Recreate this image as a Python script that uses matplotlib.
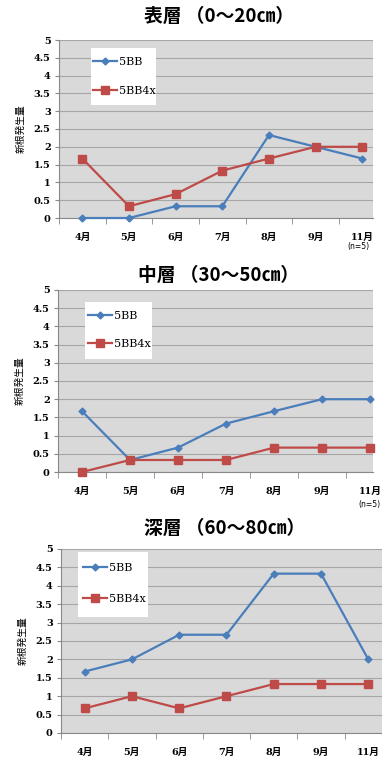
import numpy as np
import matplotlib
matplotlib.use('agg')
import matplotlib.pyplot as plt
from matplotlib.patches import Rectangle

months = ['4月', '5月', '6月', '7月', '8月', '9月', '11月']
titles = ['表層 （0〜20㎝）', '中層 （30〜50㎝）', '深層 （60〜80㎝）']
ylab = '新根発生量'
series_names = ['5BB', '5BB4x']

top_5bb = [0, 0, 0.33, 0.33, 2.33, 2.0, 1.67]
top_5bb4x = [1.67, 0.33, 0.67, 1.33, 1.67, 2.0, 2.0]
mid_5bb = [1.67, 0.33, 0.67, 1.33, 1.67, 2.0, 2.0]
mid_5bb4x = [0, 0.33, 0.33, 0.33, 0.67, 0.67, 0.67]
deep_5bb = [1.67, 2.0, 2.67, 2.67, 4.33, 4.33, 2.0]
deep_5bb4x = [0.67, 1.0, 0.67, 1.0, 1.33, 1.33, 1.33]

W, H = 382, 758
blue = '#4A7EBB'
red = '#BE4B48'
cjk = ['DejaVu Serif', 'Noto Sans CJK JP']
sans = ['Noto Sans CJK JP', 'DejaVu Sans']

# pixel boxes: left, right, top, bottom ; legend white box ; first entry (x, y) ; entry gap
panels = [
    dict(box=(59, 373, 40, 218), xr=6.23, lbox=(91, 48, 156, 105), ent=(93, 63), gap=30,
         title_y=16, n5=(358, 247), d1=top_5bb, d2=top_5bb4x),
    dict(box=(58, 373, 290, 472), xr=6.06, lbox=(85, 302, 152, 359), ent=(88, 317), gap=29,
         title_y=275, n5=(369, 504), d1=mid_5bb, d2=mid_5bb4x),
    dict(box=(61, 382, 549, 733), xr=6.29, lbox=(78, 552, 148, 617), ent=(83, 569), gap=32,
         title_y=528, n5=None, d1=deep_5bb, d2=deep_5bb4x),
]

fig = plt.figure(figsize=(W / 100, H / 100), dpi=100)
fig.patch.set_facecolor('white')

for i, p in enumerate(panels):
    l, r, t, b = p['box']
    ax = fig.add_axes([l / W, 1 - b / H, (r - l) / W, (b - t) / H])
    ax.set_facecolor('#D9D9D9')
    x = np.arange(len(months))
    ax.plot(x, p['d1'], '-D', color=blue, lw=1.6, ms=3.5, label=series_names[0], clip_on=False, zorder=3)
    ax.plot(x, p['d2'], '-s', color=red, lw=1.6, ms=5.8, label=series_names[1], clip_on=False, zorder=3)
    ax.set_yticks(np.arange(0, 5.01, 0.5))
    ax.set_yticklabels(['0', '0.5', '1', '1.5', '2', '2.5', '3', '3.5', '4', '4.5', '5'],
                       family='DejaVu Serif', weight='bold', fontsize=7)
    ax.grid(axis='y', color='#A6A6A6', lw=0.8)
    ax.set_axisbelow(True)
    ax.set_xticks(x)
    ax.set_xticklabels(months, family=cjk, weight='bold', fontsize=7)
    ax.set_xticks(np.arange(-0.5, 7, 1), minor=True)
    ax.set_xlim(-0.5, p['xr'])
    ax.set_ylim(0, 5)
    ax.tick_params(axis='x', which='major', length=0, pad=11)
    ax.tick_params(axis='x', which='minor', length=4, color='#888888', direction='out')
    ax.tick_params(axis='y', length=3, color='#888888', pad=3)
    for s in ['top', 'right']:
        ax.spines[s].set_visible(False)
    for s in ['left', 'bottom']:
        ax.spines[s].set_color('#888888')
        ax.spines[s].set_linewidth(0.8)
    ax.set_ylabel(ylab, family=sans, fontsize=7, labelpad=6)
    fig.text((l + r) / 2 / W + 0.008, 1 - p['title_y'] / H, titles[i],
             family=sans, weight='bold', fontsize=13.5, ha='center', va='center')
    # legend: white box plus entries
    x0, y0, x1, y1 = p['lbox']
    fig.patches.append(Rectangle((x0 / W, 1 - y1 / H), (x1 - x0) / W, (y1 - y0) / H,
                                 transform=fig.transFigure, facecolor='white',
                                 edgecolor='none', zorder=5))
    ex, ey = p['ent']
    fs = 8
    leg = fig.legend(*ax.get_legend_handles_labels(), loc='upper left',
                     bbox_to_anchor=(ex / W, 1 - (ey - 6) / H),
                     bbox_transform=fig.transFigure, frameon=False,
                     prop={'family': 'DejaVu Serif', 'size': fs},
                     labelspacing=(p['gap'] - 11) / 11.1, borderpad=0, handlelength=2.2,
                     handletextpad=0.15, borderaxespad=0)
    leg.set_zorder(6)
    if p['n5']:
        fig.text(p['n5'][0] / W, 1 - p['n5'][1] / H, '(n=5)', family='DejaVu Sans', fontsize=5.5,
                 ha='center', va='center')

fig.savefig('out.png', dpi=100)
